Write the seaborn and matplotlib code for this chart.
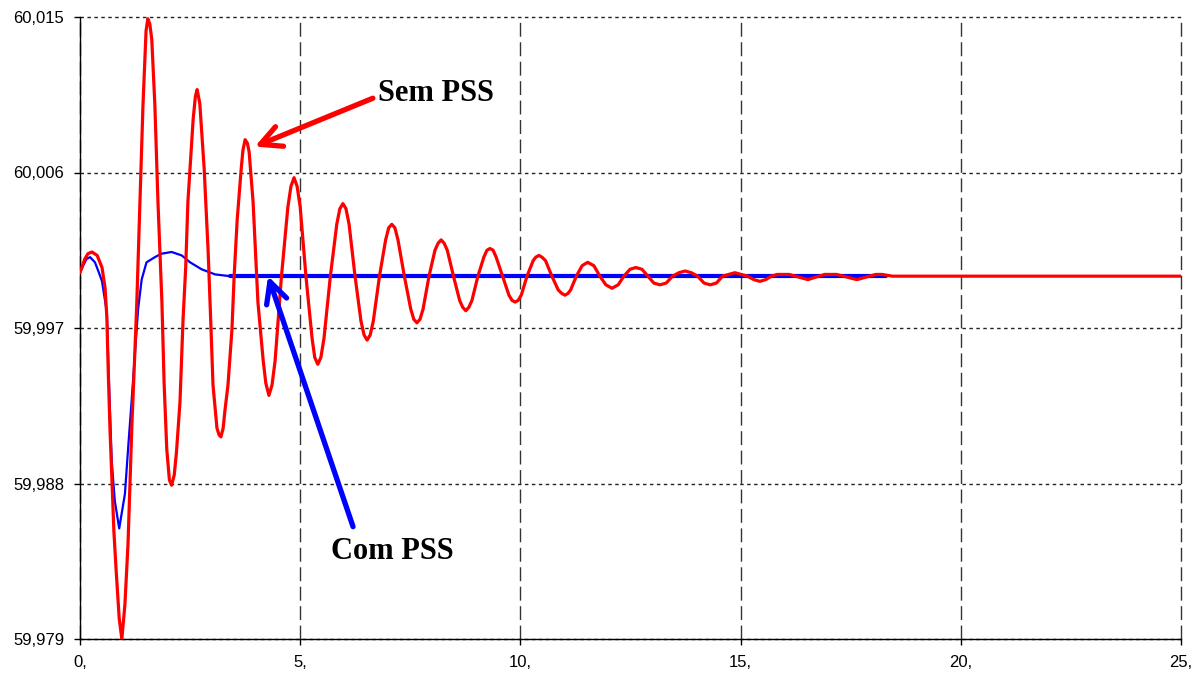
import matplotlib
matplotlib.use("Agg")
import matplotlib.pyplot as plt
import seaborn as sns
import pandas as pd

# Frequency response (Hz) of the generator after a disturbance, without PSS
t_sem = [0.00, 0.11, 0.18, 0.27, 0.39, 0.50, 0.57, 0.61, 0.64, 0.68, 0.73, 0.77,
         0.82, 0.89, 0.95, 1.02, 1.09, 1.18, 1.23, 1.29, 1.36, 1.43, 1.50, 1.54,
         1.585, 1.63, 1.70, 1.77, 1.86, 1.91, 1.97, 2.03, 2.08, 2.14, 2.19, 2.27,
         2.34, 2.40, 2.45, 2.57, 2.62, 2.66, 2.72, 2.82, 2.91, 2.96, 3.02, 3.11,
         3.16, 3.20, 3.25, 3.29, 3.36, 3.45, 3.50, 3.57, 3.66, 3.70, 3.75, 3.80,
         3.84, 3.93, 4.04, 4.16, 4.22, 4.29,
         4.36, 4.43, 4.575, 4.72, 4.79, 4.86, 4.93, 5.00, 5.13, 5.27, 5.33, 5.40,
         5.47, 5.54, 5.685, 5.83, 5.90, 5.97, 6.04, 6.11, 6.245, 6.38, 6.45, 6.52,
         6.59, 6.66, 6.80, 6.94, 7.01, 7.08, 7.15, 7.22, 7.365, 7.51, 7.58, 7.65,
         7.72, 7.79, 7.925, 8.06, 8.13, 8.20, 8.27, 8.34, 8.48, 8.62, 8.69, 8.76,
         8.83, 8.90, 9.035, 9.17, 9.24, 9.31, 9.38, 9.45, 9.595, 9.74, 9.81, 9.88,
         9.95, 10.02, 10.15, 10.29, 10.35, 10.42, 10.49, 10.57, 10.715, 10.86,
         10.94, 11.01, 11.08, 11.14, 11.27, 11.40, 11.46, 11.53, 11.60, 11.67,
         11.805, 11.94, 12.01, 12.08,
         12.22, 12.35, 12.49, 12.62, 12.76, 12.895, 13.03,
         13.17, 13.31, 13.455, 13.60, 13.74, 13.88, 14.025, 14.17, 14.31, 14.45,
         14.59, 14.73, 14.87, 15.01, 15.155, 15.30, 15.44, 15.57, 15.70, 15.83,
         15.96, 16.10, 16.245, 16.39, 16.53, 16.65, 16.78, 16.91, 17.03, 17.18,
         17.335, 17.49, 17.64, 17.78, 17.925, 18.07, 18.21, 18.45, 25.00]
f_sem = [60.0002, 60.0010, 60.0013, 60.0014, 60.0012, 60.0005, 59.9993, 59.9976,
         59.9946, 59.9912, 59.9879, 59.9852, 59.9830, 59.9802, 59.9790, 59.9810,
         59.9845, 59.9915, 59.9946, 59.9985, 60.0043, 60.0099, 60.0142, 60.0149,
         60.0146, 60.0137, 60.0099, 60.0043, 59.9985, 59.9938, 59.9900, 59.9882,
         59.9879, 59.9885, 59.9898, 59.9927, 59.9975, 60.0005, 60.0043, 60.0091,
         60.0104, 60.0108, 60.0100, 60.0062, 60.0014, 59.9980, 59.9937, 59.9912,
         59.9908, 59.9907, 59.9912, 59.9922, 59.9937, 59.9969, 60.0000, 60.0033,
         60.0062, 60.0073, 60.0079, 60.0077, 60.0072, 60.0043, 59.9985, 59.9951,
         59.9938, 59.9931,
         59.9937, 59.9951, 60.0000, 60.0040, 60.0052, 60.0057, 60.0052, 60.0040,
         60.0000, 59.9964, 59.9953, 59.9949, 59.9953, 59.9964, 60.0000, 60.0030,
         60.0039, 60.0042, 60.0039, 60.0030, 60.0000, 59.9974, 59.9966, 59.9963,
         59.9966, 59.9974, 60.0000, 60.0021, 60.0028, 60.0030, 60.0028, 60.0021,
         60.0000, 59.9981, 59.9975, 59.9973, 59.9975, 59.9981, 60.0000, 60.0015,
         60.0019, 60.0021, 60.0019, 60.0015, 60.0000, 59.9986, 59.9982, 59.9980,
         59.9982, 59.9986, 60.0000, 60.0011, 60.0015, 60.0016, 60.0015, 60.0011,
         60.0000, 59.9989, 59.9986, 59.9985, 59.9986, 59.9989, 60.0000, 60.0009,
         60.0011, 60.0012, 60.0011, 60.0009, 60.0000, 59.9992, 59.9990, 59.9989,
         59.9990, 59.9992, 60.0000, 60.0006, 60.0007, 60.0008, 60.0007, 60.0006,
         60.0000, 59.9995, 59.9994, 59.9993,
         59.9995, 60.0000, 60.0004, 60.0005, 60.0004, 60.0000, 59.9996,
         59.9995, 59.9996, 60.0000, 60.0002, 60.0003, 60.0002, 60.0000, 59.9996,
         59.9995, 59.9996, 60.0000, 60.0001, 60.0002, 60.0001, 60.0000, 59.9998,
         59.9997, 59.9998, 60.0000, 60.0001, 60.0001, 60.0001, 60.0000, 59.9999,
         59.9998, 59.9999, 60.0000, 60.0001, 60.0001, 60.0001, 60.0000, 59.9999,
         59.9998, 59.9999, 60.0000, 60.0001, 60.0001, 60.0000, 60.0000]

# Frequency response (Hz) with PSS: transient part and settled part
t_com = [0.00, 0.07, 0.15, 0.23, 0.34, 0.43, 0.50, 0.61, 0.64, 0.72, 0.79,
         0.89, 1.02, 1.10, 1.17, 1.25, 1.32, 1.40, 1.51, 1.70, 1.85, 2.08,
         2.31, 2.50, 2.76, 3.07, 3.41]
f_com = [60.0002, 60.0006, 60.0010, 60.0011, 60.0008, 60.0002, 59.9997, 59.9979,
         59.9952, 59.9893, 59.9870, 59.9854, 59.9874, 59.9903, 59.9927, 59.9956,
         59.9981, 59.9998, 60.0008, 60.0011, 60.0013, 60.0014, 60.0012, 60.0008,
         60.0004, 60.0001, 60.0000]
t_com_flat = [3.41, 18.30]
f_com_flat = [60.0000, 60.0000]

x_ticks = [0, 5, 10, 15, 20, 25]
x_tick_labels = ["0,", "5,", "10,", "15,", "20,", "25,"]
y_ticks = [59.979, 59.988, 59.997, 60.006, 60.015]
y_tick_labels = ["59,979", "59,988", "59,997", "60,006", "60,015"]

sem_label = "Sem PSS"
com_label = "Com PSS"

sns.set_theme(style="white")
plt.rcParams["font.family"] = ["Liberation Sans", "DejaVu Sans"]

fig = plt.figure(figsize=(12, 6.77), dpi=100)
ax = fig.add_axes([80 / 1200, 1 - 639 / 677, (1181 - 80) / 1200, (639 - 17) / 677])

df_sem = pd.DataFrame({"t": t_sem, "f": f_sem})
df_com = pd.DataFrame({"t": t_com, "f": f_com})
df_flat = pd.DataFrame({"t": t_com_flat, "f": f_com_flat})

sns.lineplot(data=df_com, x="t", y="f", color="#0000FF", lw=1.6,
             estimator=None, sort=False, ax=ax, zorder=3)
sns.lineplot(data=df_flat, x="t", y="f", color="#0000FF", lw=3.0,
             estimator=None, sort=False, ax=ax, zorder=3)
sns.lineplot(data=df_sem, x="t", y="f", color="#FF0000", lw=2.3,
             estimator=None, sort=False, ax=ax, zorder=4,
             solid_joinstyle="round")

ax.set_xlim(0, 25)
ax.set_ylim(59.979, 60.015)
ax.set_xticks(x_ticks)
ax.set_xticklabels(x_tick_labels)
ax.set_yticks(y_ticks)
ax.set_yticklabels(y_tick_labels)
ax.set_xlabel("")
ax.set_ylabel("")

ax.tick_params(axis="both", which="major", direction="out", length=4.5,
               width=1.0, color="black", labelsize=12, labelcolor="black",
               left=True, bottom=True)
ax.tick_params(axis="y", pad=7)
ax.tick_params(axis="x", pad=7)

for side in ["top", "right"]:
    ax.spines[side].set_visible(False)
for side in ["left", "bottom"]:
    ax.spines[side].set_visible(True)
    ax.spines[side].set_color("black")
    ax.spines[side].set_linewidth(1.0)

# Grid: long dashes on time ticks, short dots on frequency ticks
ax.xaxis.grid(True, color="#333333", linestyle=(0, (10, 4)), linewidth=1.0)
ax.yaxis.grid(True, color="#222222", linestyle=(0, (2.5, 2.5)), linewidth=1.0)
ax.set_axisbelow(True)
for gl in ax.get_xgridlines() + ax.get_ygridlines():
    gl.set_clip_on(False)

# Labels with arrows pointing at each curve
arrow_style = "->,head_length=0.75,head_width=0.38"
ax.annotate("", xy=(3.97, 60.0075), xytext=(6.65, 60.0103),
            arrowprops=dict(arrowstyle=arrow_style, color="#FF0000", lw=3.8,
                            mutation_scale=20, shrinkA=0, shrinkB=0), zorder=6)
ax.text(6.77, 60.0106, sem_label, ha="left", va="center", fontsize=22,
        fontweight="bold", family=["Liberation Serif", "DejaVu Serif"],
        color="black", zorder=6)

ax.annotate("", xy=(4.27, 60.0000), xytext=(6.20, 59.9855),
            arrowprops=dict(arrowstyle=arrow_style, color="#0000FF", lw=3.8,
                            mutation_scale=20, shrinkA=0, shrinkB=0), zorder=6)
ax.text(5.69, 59.9849, com_label, ha="left", va="top", fontsize=22,
        fontweight="bold", family=["Liberation Serif", "DejaVu Serif"],
        color="black", zorder=6)

fig.savefig("out.png", dpi=100, facecolor="white")
